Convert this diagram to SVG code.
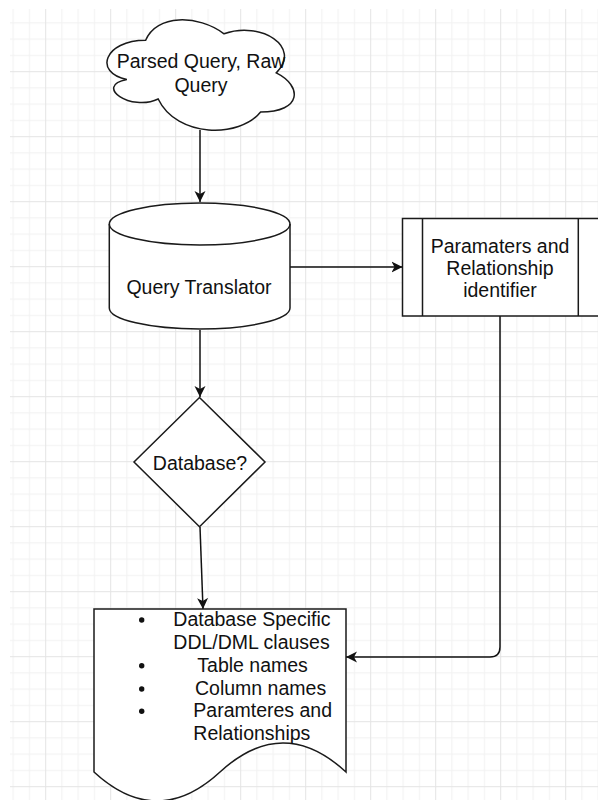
<svg xmlns="http://www.w3.org/2000/svg" width="598" height="800" viewBox="0 0 598 800">
  <defs>
    <pattern id="grid" patternUnits="userSpaceOnUse" x="45.2" y="6.2" width="65" height="65">
      <rect x="16.25" y="0" width="1" height="65" fill="#f1f1f1"/>
      <rect x="32.5" y="0" width="1" height="65" fill="#f1f1f1"/>
      <rect x="48.75" y="0" width="1" height="65" fill="#f1f1f1"/>
      <rect x="0" y="16.25" width="65" height="1" fill="#f1f1f1"/>
      <rect x="0" y="32.5" width="65" height="1" fill="#f1f1f1"/>
      <rect x="0" y="48.75" width="65" height="1" fill="#f1f1f1"/>
      <rect x="0" y="0" width="1" height="65" fill="#e4e4e4"/>
      <rect x="0" y="0" width="65" height="1" fill="#e4e4e4"/>
    </pattern>
    <marker id="arrow" markerUnits="userSpaceOnUse" markerWidth="14" markerHeight="14" viewBox="0 -7 14 14" refX="11" refY="0" orient="auto">
      <path d="M0,-5.5 L11,0 L0,5.5 L3,0 Z" fill="#111"/>
    </marker>
  </defs>
  <style>
    .shape { fill: #ffffff; stroke: #1a1a1a; stroke-width: 1.5; }
    .edge { fill: none; stroke: #111; stroke-width: 1.5; }
    text { font-family: "Liberation Sans", Arial, sans-serif; font-size: 19.5px; fill: #111; }
    .c { text-anchor: middle; }
  </style>
  <rect x="0" y="0" width="598" height="800" fill="#ffffff"/>
  <rect x="10" y="9" width="588" height="791" fill="url(#grid)"/>

  <g id="connectors">
    <path class="edge" d="M200,130 L200,202" marker-end="url(#arrow)"/>
    <path class="edge" d="M290,267 L402.5,267" marker-end="url(#arrow)"/>
    <path class="edge" d="M200,330 L200,397" marker-end="url(#arrow)"/>
    <path class="edge" d="M200,527 L203,609" marker-end="url(#arrow)"/>
    <path class="edge" d="M500,316 L500,647 Q500,657 490,657 L346,657" marker-end="url(#arrow)"/>
  </g>

  <g id="cloud">
    <path class="shape" d="M145.65,40.3 C103.85,40.3 93.4,72.9 126.84,79.42 C93.4,85.94 131.02,112.02 158.19,98.98 C177,138.1 239.7,138.1 260.6,112.02 C302.4,112.02 302.4,85.94 276.28,72.9 C302.4,46.82 260.6,20.74 224.03,33.78 C197.9,14.22 156.1,14.22 145.65,40.3 Z"/>
    <text class="c" x="201" y="68.3">Parsed Query, Raw</text>
    <text class="c" x="201" y="91.7">Query</text>
  </g>

  <g id="translator">
    <path class="shape" d="M109.3,224 A90.35,21 0 0 1 290,224 L290,308 A90.35,21 0 0 1 109.3,308 Z"/>
    <path class="shape" style="fill:none" d="M109.3,224 A90.35,21 0 0 0 290,224"/>
    <text class="c" x="199" y="294">Query Translator</text>
  </g>

  <g id="identifier">
    <rect class="shape" x="402.5" y="218.5" width="197" height="97.5"/>
    <path class="shape" style="fill:none" d="M422.5,218.5 L422.5,316 M578.3,218.5 L578.3,316"/>
    <text class="c" x="500" y="252.7">Paramaters and</text>
    <text class="c" x="500" y="275">Relationship</text>
    <text class="c" x="500" y="297.3">identifier</text>
  </g>

  <g id="decision">
    <path class="shape" d="M199.5,397.5 L265,462 L199.5,526.7 L134,462 Z"/>
    <text class="c" x="200" y="470">Database?</text>
  </g>

  <g id="output">
    <path class="shape" d="M94,609 L346,609 L346,772 Q283,714 220,772 Q157,830 94,772 Z"/>
    <circle cx="141.7" cy="620" r="2.7" fill="#111"/>
    <circle cx="141.7" cy="665.7" r="2.7" fill="#111"/>
    <circle cx="141.7" cy="689" r="2.7" fill="#111"/>
    <circle cx="141.7" cy="711.3" r="2.7" fill="#111"/>
    <text x="173.3" y="626">Database Specific</text>
    <text x="173.3" y="649.3">DDL/DML clauses</text>
    <text x="197.3" y="671.7">Table names</text>
    <text x="195" y="695">Column names</text>
    <text x="193.3" y="717.3">Paramteres and</text>
    <text x="193.3" y="740">Relationships</text>
  </g>
</svg>
